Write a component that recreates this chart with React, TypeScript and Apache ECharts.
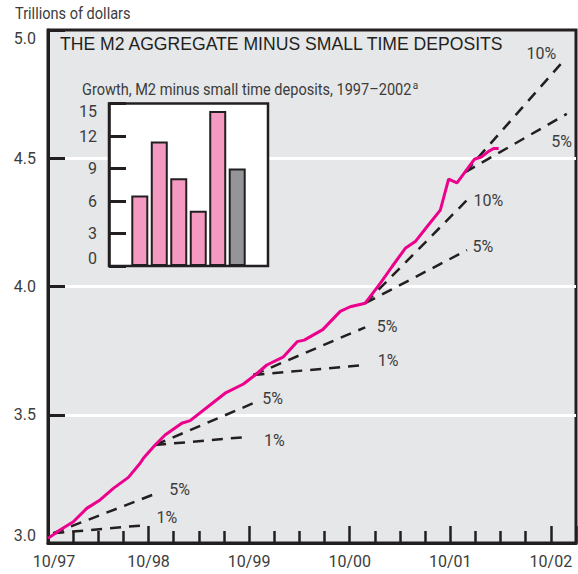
import React, { useEffect, useRef } from "react";
import * as echarts from "echarts";

// Main series: months after 10/97, M2 minus small time deposits (trillions)
const m2Months = [0, 1.43, 3.02, 4.62, 6.21, 7.8, 9.59, 10.99, 11.38, 12.78, 13.97, 15.96, 16.96, 19.34, 21.13, 23.32, 24.72, 26.11, 28.1, 29.73, 30.57, 32.78, 34.87, 36.06, 37.85, 39.64, 41.04, 42.63, 43.82, 45.22, 46.81, 47.8, 48.8, 49.79, 50.87, 51.7, 52.57, 53.17, 53.77];
const m2Values = [3.018, 3.051, 3.083, 3.135, 3.168, 3.213, 3.256, 3.311, 3.33, 3.382, 3.421, 3.467, 3.477, 3.538, 3.584, 3.62, 3.655, 3.694, 3.726, 3.785, 3.791, 3.832, 3.903, 3.921, 3.935, 4.012, 4.077, 4.149, 4.175, 4.233, 4.298, 4.419, 4.404, 4.448, 4.496, 4.505, 4.527, 4.538, 4.538];

// Growth projections (dashed)
const projLabels = ["1%", "5%", "1%", "5%", "1%", "5%", "5%", "10%", "5%", "10%"];
const projFrom = [[0.63, 3.038], [0.63, 3.038], [12.78, 3.382], [12.78, 3.382], [24.51, 3.655], [24.51, 3.655], [37.85, 3.935], [37.85, 3.935], [49.79, 4.446], [49.79, 4.446]];
const projTo = [[11.8, 3.07], [12.98, 3.194], [23.92, 3.414], [24.92, 3.551], [37.85, 3.694], [37.85, 3.841], [50.0, 4.142], [50.0, 4.337], [61.9, 4.673], [61.34, 4.873]];
const projLabelOffsets = [[4, -8], [7, -4], [10, 4], [0, -3], [7, -4], [6, -1], [0, -4], [1, 0], [-21, 28], [-41, -9]];

const xTickLabels = ["10/97", "10/98", "10/99", "10/00", "10/01", "10/02"];

// Inset
const insetYears = ["1997", "1998", "1999", "2000", "2001", "2002"];
const insetGrowth = [6.5, 11.5, 8.1, 5.1, 14.3, 9.0];
const insetColors = ["#f49ac1", "#f49ac1", "#f49ac1", "#f49ac1", "#f49ac1", "#939598"];
const insetTicks = [3, 6, 9, 12];
const insetXMin = -1.58;
const insetXMax = 6.58;
const insetTickLen = 0.87; // in inset x units

const FONT = '"Liberation Sans Narrow", "Roboto", sans-serif';
const WIDE = '"Liberation Sans", Arial, sans-serif';
const INK = "#231f20";
const TXT = "#3c3c3c";

export default function App() {
  const ref = useRef<HTMLDivElement>(null);
  useEffect(() => {
    if (!ref.current) return;
    const chart = echarts.init(ref.current, undefined, { renderer: "svg" });
    const projSeries = projLabels.map((lab, i) => ({
      type: "line",
      xAxisIndex: 0,
      yAxisIndex: 0,
      z: 3,
      symbol: "circle",
      symbolSize: 1,
      showSymbol: true,
      itemStyle: { color: "rgba(0,0,0,0)" },
      lineStyle: { color: INK, width: 2.5, type: [11, 8] },
      data: [
        { value: projFrom[i] },
        {
          value: projTo[i],
          label: {
            show: true,
            position: "right",
            formatter: lab,
            offset: projLabelOffsets[i],
            color: TXT,
            fontFamily: FONT,
            fontSize: 16,
          },
        },
      ],
    }));
    chart.setOption({
      animation: false,
      grid: [
        { left: 48, right: 2, top: 30, bottom: 31, show: true, backgroundColor: "#e6e7e8", borderColor: INK, borderWidth: 3, z: 0 },
        { left: 109, right: 310, top: 103.5, bottom: 308, show: true, backgroundColor: "#ffffff", borderColor: INK, borderWidth: 2.5, z: 3 },
      ],
      xAxis: [
        {
          type: "value",
          gridIndex: 0,
          min: 0,
          max: 63,
          interval: 12,
          axisLine: { show: true, lineStyle: { color: INK, width: 3 } },
          axisTick: { show: true, inside: true, length: 17, lineStyle: { color: INK, width: 2.5 } },
          minorTick: { show: true, splitNumber: 4, length: 12, lineStyle: { color: INK, width: 2.5 } },
          splitLine: { show: false },
          axisLabel: {
            show: true,
            margin: 10,
            color: TXT,
            fontSize: 16,
            fontFamily: FONT,
            formatter: (v: number) => {
              const lab = xTickLabels[Math.round(v / 12)] || "";
              return v === 0 ? "{f|" + lab + "}" : lab;
            },
            rich: { f: { fontSize: 16, fontFamily: FONT, color: TXT, padding: [0, 0, 0, 12] } },
          },
        },
        {
          type: "value",
          gridIndex: 1,
          min: insetXMin,
          max: insetXMax,
          axisLine: { show: false, onZero: false },
          axisTick: { show: false },
          axisLabel: { show: false },
          splitLine: { show: false },
        },
      ],
      yAxis: [
        {
          type: "value",
          gridIndex: 0,
          min: 3,
          max: 5,
          interval: 0.5,
          axisLine: { show: true, lineStyle: { color: INK, width: 3 } },
          axisTick: { show: true, inside: true, length: 17, lineStyle: { color: INK, width: 3 } },
          splitLine: { show: true, showMinLine: false, showMaxLine: false, lineStyle: { color: "#ffffff", width: 3 } },
          axisLabel: {
            margin: 12,
            color: TXT,
            fontSize: 16,
            fontFamily: FONT,
            formatter: (v: number) => v.toFixed(1),
            verticalAlignMinLabel: "bottom",
            verticalAlignMaxLabel: "top",
          },
        },
        {
          type: "value",
          gridIndex: 1,
          min: 0,
          max: 15,
          interval: 3,
          z: 6,
          axisLine: { show: true, onZero: false, lineStyle: { color: INK, width: 2.5 } },
          axisTick: { show: true, inside: true, length: 17, lineStyle: { color: INK, width: 3 } },
          splitLine: { show: false },
          axisLabel: {
            margin: 12,
            color: TXT,
            fontSize: 16,
            fontFamily: FONT,
            verticalAlignMinLabel: "bottom",
            verticalAlignMaxLabel: "top",
          },
        },
      ],
      graphic: [
        { type: "text", left: 15, top: 6, z: 1, scaleX: 0.91, style: { text: "Trillions of dollars", fill: TXT, font: "16px " + FONT } },
        { type: "text", left: 60, top: 35, z: 1, style: { text: "THE M2 AGGREGATE MINUS SMALL TIME DEPOSITS", fill: INK, font: "17.6px " + WIDE } },
        {
          type: "text",
          left: 82,
          top: 80,
          z: 1,
          scaleX: 0.91,
          style: {
            text: "{t|Growth, M2 minus small time deposits, 1997–2002}{s|a}",
            rich: {
              t: { fontSize: 16, fontFamily: FONT, fill: TXT, verticalAlign: "bottom" },
              s: { fontSize: 11, fontFamily: FONT, fill: TXT, verticalAlign: "bottom", padding: [0, 0, 7, 1] },
            },
          },
        },
      ],
      series: [
        {
          type: "bar",
          xAxisIndex: 1,
          yAxisIndex: 1,
          z: 5,
          barWidth: 17,
          data: insetGrowth.map((v, i) => ({
            name: insetYears[i],
            value: [i, v],
            itemStyle: { color: insetColors[i], borderColor: INK, borderWidth: 2 },
          })),
          markLine: {
            silent: true,
            symbol: ["none", "none"],
            label: { show: false },
            lineStyle: { type: "solid", color: INK, width: 3 },
            data: insetTicks.map((t) => [
              { coord: [insetXMin, t] },
              { coord: [insetXMin + insetTickLen, t] },
            ]),
          },
        },
        ...projSeries,
        {
          type: "line",
          xAxisIndex: 0,
          yAxisIndex: 0,
          z: 4,
          showSymbol: false,
          lineStyle: { color: "#ec008c", width: 3 },
          data: m2Months.map((m, i) => [m, m2Values[i]]),
        },
      ],
    });
    return () => chart.dispose();
  }, []);
  return <div ref={ref} style={{ position: "absolute", left: 0, top: 0, width: 578, height: 574 }} />;
}
